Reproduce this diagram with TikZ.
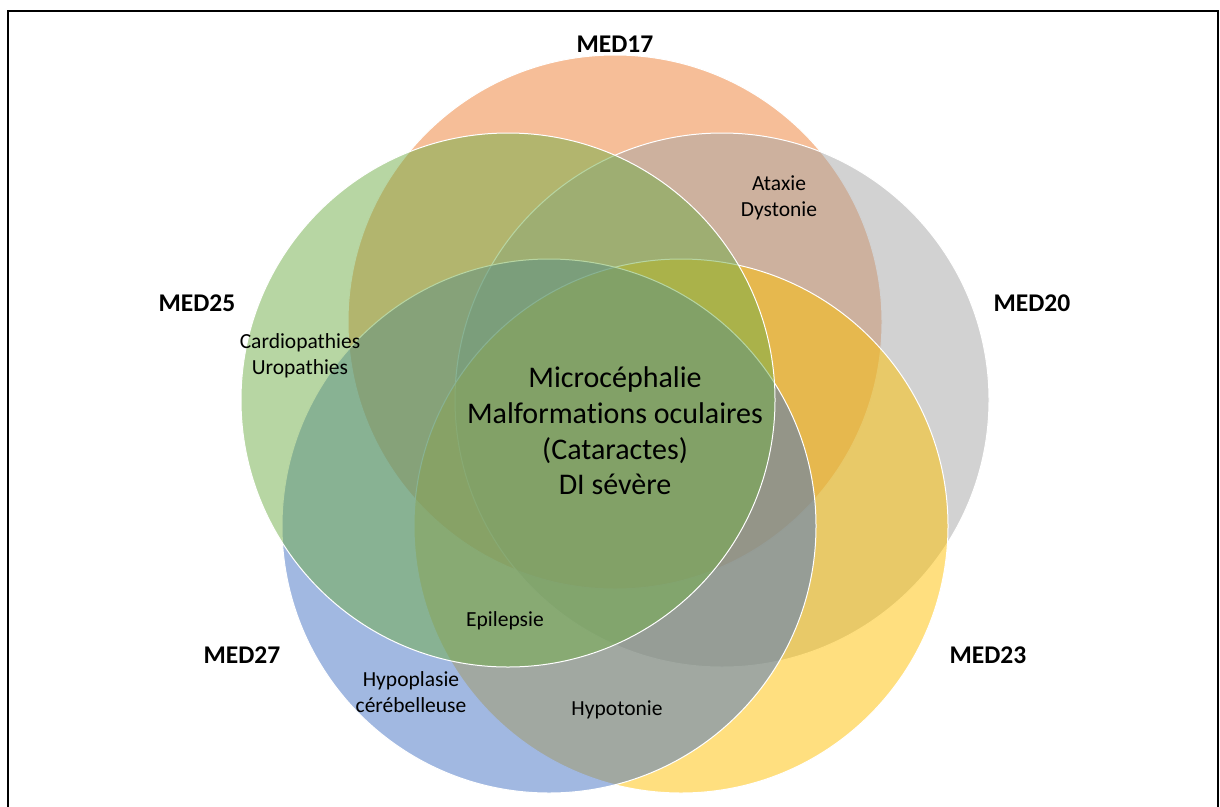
\documentclass[tikz,border=0pt]{standalone}
\usepackage{fontspec}
\setmainfont{Carlito}[Ligatures={NoCommon}]
\definecolor{medorange}{HTML}{ED7D31}
\definecolor{medgray}{HTML}{A5A5A5}
\definecolor{medyellow}{HTML}{FFC000}
\definecolor{medblue}{HTML}{4472C4}
\definecolor{medgreen}{HTML}{70AD47}

\begin{document}
\begin{tikzpicture}[x=1pt,y=-1pt,
   medset/.style={fill=#1,fill opacity=0.5,draw=white,line width=1pt},
   gene/.style={font=\fontsize{25.5}{30}\selectfont\bfseries,inner sep=0pt},
   trait/.style={font=\fontsize{21.5}{26}\selectfont,align=center,inner sep=0pt},
   core/.style={font=\fontsize{30}{35.7}\selectfont,align=center,inner sep=0pt}]
   \useasboundingbox (0,0) rectangle (1220,806);
   \draw[line width=1.6pt] (8,830) -- (8,11) -- (1218,11) -- (1218,830);
   \filldraw[medset=medorange] (615,322) circle[radius=267pt];
   \filldraw[medset=medgray]   (722,400) circle[radius=267pt];
   \filldraw[medset=medyellow] (681,526) circle[radius=267pt];
   \filldraw[medset=medblue]   (549,526) circle[radius=267pt];
   \filldraw[medset=medgreen]  (508,400) circle[radius=267pt];
   \node[gene] (med17) at (615,44.5) {MED17};
   \node[gene] (med20) at (1032,303.5) {MED20};
   \node[gene] (med23) at (988,655) {MED23};
   \node[gene] (med27) at (242,655) {MED27};
   \node[gene] (med25) at (197,303.5) {MED25};
   \node[trait] (ataxie) at (779,198) {Ataxie\\Dystonie};
   \node[trait] (cardio) at (300,356) {Cardiopathies\\Uropathies};
   \node[trait] (epilepsie) at (505,621) {Epilepsie};
   \node[trait] (hypoplasie) at (411,692) {Hypoplasie\\cérébelleuse};
   \node[trait] (hypotonie) at (617,709.5) {Hypotonie};
   \node[core] (commun) at (615,431) {Microcéphalie\\Malformations oculaires\\(Cataractes)\\DI sévère};
\end{tikzpicture}
\end{document}
